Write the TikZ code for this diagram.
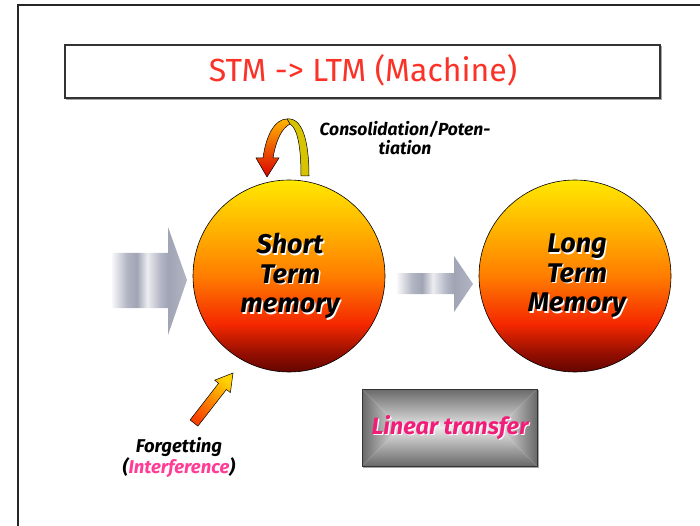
\documentclass[tikz,border=0pt]{standalone}
\usepackage{fontspec}
\setmainfont{Fira Sans}
\usepackage{tikz}

\definecolor{titlered}{RGB}{250,50,40}
\definecolor{sphDark}{RGB}{100,5,0}
\definecolor{sphMaroon}{RGB}{150,15,0}
\definecolor{sphRed}{RGB}{245,40,0}
\definecolor{sphOrange}{RGB}{255,125,0}
\definecolor{sphAmber}{RGB}{255,180,0}
\definecolor{sphYellow}{RGB}{255,232,0}
\definecolor{mtlWhite}{RGB}{248,248,250}
\definecolor{mtlDark}{RGB}{160,164,180}
\definecolor{mtlMid}{RGB}{178,181,195}
\definecolor{mtlLight}{RGB}{236,237,241}
\definecolor{boxDark}{RGB}{105,105,105}
\definecolor{boxLight}{RGB}{232,232,232}
\definecolor{hotpink}{RGB}{240,30,120}
\definecolor{softpink}{RGB}{255,60,150}
\definecolor{ribbonYellow}{RGB}{215,195,0}

\pgfdeclareverticalshading{memsphere}{100bp}{color(0bp)=(sphDark); color(25bp)=(sphDark);
  color(30bp)=(sphMaroon); color(37.5bp)=(sphRed); color(50bp)=(sphOrange);
  color(62.5bp)=(sphAmber); color(75bp)=(sphYellow); color(100bp)=(sphYellow)}
\pgfdeclarehorizontalshading{metal}{100bp}{color(0bp)=(mtlWhite); color(25bp)=(mtlWhite);
  color(35bp)=(mtlMid); color(41.5bp)=(mtlDark); color(48.5bp)=(mtlLight);
  color(57.5bp)=(mtlMid); color(62.5bp)=(mtlDark); color(75bp)=(mtlMid); color(100bp)=(mtlMid)}

\begin{document}
\begin{tikzpicture}[x=1pt,y=-1pt,
  ball/.style={circle, draw=black, line width=0.6pt, minimum size=192pt, inner sep=0pt, shading=memsphere},
  balltext/.style={align=center, inner sep=0pt, font=\fontsize{27}{29.5}\selectfont\bfseries\itshape},
  smalltext/.style={align=center, inner sep=0pt, font=\fontsize{17.5}{19.5}\selectfont\bfseries\itshape}]

  \useasboundingbox (0,0) rectangle (700,526);

  %slide frame:
  \draw[line width=1.8pt, black!85] (18,526) -- (18,5) -- (700,5);

  %title
  \draw[line width=1pt, black!35] (66,99.5) -- (661.5,99.5) -- (661.5,46);
  \node[draw=black!80, line width=1.1pt, minimum width=595pt, minimum height=53pt, inner sep=0pt]
    (titlebox) at (362.5,71.5) {};
  \node[anchor=base, text=titlered, font=\fontsize{32}{38}\selectfont] (title) at (363,82)
    {STM -> LTM (Machine)};

  %input and transfer arrows
  \shade[shading=metal]
    (112,253) -- (168,253) -- (168,227) -- (187,280) -- (168,335) -- (168,308) -- (112,308) -- cycle;
  \shade[shading=metal]
    (397,273) -- (454,273) -- (454,256) -- (473,284) -- (454,312) -- (454,294) -- (397,294) -- cycle;

  %memories
  \node[ball] (stm) at (289,276) {};
  \node[ball] (ltm) at (575,276) {};
  \node[balltext, text=white] (stmglow) at (291.3,277.3) {Short\\Term\\memory};
  \node[balltext] (stmlabel) at (290,276) {Short\\Term\\memory};
  \node[balltext, text=white] (ltmglow) at (578.3,277.3) {Long\\Term\\Memory};
  \node[balltext] (ltmlabel) at (577,276) {Long\\Term\\Memory};

  %consolidation loop
  \filldraw[fill=ribbonYellow, draw=black, line width=0.5pt]
    (287,119) .. controls (302,117) and (309,140) .. (309,176) -- (301,176)
    .. controls (301,145) and (297,128) .. (290,124) -- cycle;
  \shadedraw[top color=sphAmber, bottom color=red!85!black, draw=black, line width=0.5pt]
    (287,119) .. controls (275,119) and (266,135) .. (263,158) -- (256,158) -- (267,177)
    -- (279,158) -- (273,158) .. controls (276,140) and (282,128) .. (290,124) -- cycle;
  \node[smalltext] (consol) at (405,138) {Consolidation/Poten-\\tiation};

  %forgetting
  \shadedraw[top color=sphAmber!60!yellow, bottom color=sphRed!70!orange, shading angle=-38,
    draw=black, line width=0.5pt]
    (190.1,419.9) -- (218.6,383.3) -- (214.6,380.2) -- (233,373) -- (230.4,392.6)
    -- (226.4,389.5) -- (197.9,426.1) -- cycle;
  \node[smalltext, font=\fontsize{18.5}{20}\selectfont\bfseries\itshape] (forget) at (179,458)
    {Forgetting\\(\textcolor{softpink}{Interference})};

  %linear transfer box
  \shade[top color=boxDark, bottom color=boxLight]
    (362,389) -- (537,389) -- (498.5,427.5) -- (400.5,427.5) -- cycle;
  \shade[top color=boxLight, bottom color=boxDark]
    (362,466) -- (537,466) -- (498.5,427.5) -- (400.5,427.5) -- cycle;
  \shade[left color=boxDark, right color=boxLight]
    (362,389) -- (400.5,427.5) -- (362,466) -- cycle;
  \shade[left color=boxLight, right color=boxDark]
    (537,389) -- (498.5,427.5) -- (537,466) -- cycle;
  \draw[line width=1pt, black!35] (363,467.5) -- (538.5,467.5) -- (538.5,390);
  \node[draw=black!80, line width=1pt, minimum width=175pt, minimum height=77pt, inner sep=0pt]
    (transferbox) at (449.5,427.5) {};
  \node[anchor=base, text=white, font=\fontsize{23.5}{26}\selectfont\bfseries\itshape]
    (transferglow) at (451.2,435.2) {Linear transfer};
  \node[anchor=base, text=hotpink, font=\fontsize{23.5}{26}\selectfont\bfseries\itshape]
    (transfer) at (450,434) {Linear transfer};
\end{tikzpicture}
\end{document}
